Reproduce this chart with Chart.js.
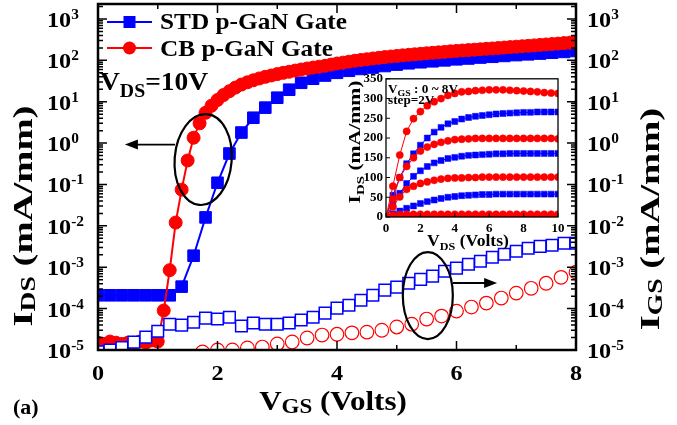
<!DOCTYPE html>
<html>
<head>
<meta charset="utf-8">
<script src="https://cdn.jsdelivr.net/npm/chart.js@4.4.1/dist/chart.umd.min.js"></script>
<style>
  html, body { margin: 0; padding: 0; background: #fff; }
  #wrap { position: relative; width: 677px; height: 425px; }
  #main { position: absolute; left: 0; top: 0; width: 677px; height: 425px; }
  #inset { position: absolute; left: 340px; top: 68px; width: 240px; height: 190px; }
</style>
</head>
<body>
<div id="wrap">
  <canvas id="main" width="677" height="425"></canvas>
  <canvas id="inset" width="240" height="190"></canvas>
</div>
<script>
// ---- main plot data (VGS sweep, VDS = 10 V) ----
var vgsStd = [0,0.2,0.4,0.6,0.8,1,1.2,1.4,1.6,1.8,2,2.2,2.4,2.6,2.8,3,3.2,3.4,3.6,3.8,4,4.2,4.4,4.6,4.8,5,5.2,5.4,5.6,5.8,6,6.2,6.4,6.6,6.8,7,7.2,7.4,7.6,7.8,8];
var idsStd = [2.1e-4,2.1e-4,2.1e-4,2.1e-4,2.1e-4,2.1e-4,2.1e-4,3.4e-4,1.9e-3,1.6e-2,0.11,0.56,1.8,4.1,7.2,12.5,19.5,28.7,36,43,50,56,62,67,73,79,85,90,95,100,106,111,117,122,128,134,140,146,153,160,168];
var igsStd = [9e-6,1.0e-5,1.15e-5,1.55e-5,2.05e-5,2.85e-5,4.2e-5,4.0e-5,4.7e-5,5.9e-5,5.6e-5,6.2e-5,3.8e-5,4.5e-5,4.2e-5,4.2e-5,4.5e-5,5.3e-5,6.2e-5,7.8e-5,1.03e-4,1.21e-4,1.6e-4,2.1e-4,2.8e-4,3.3e-4,4.1e-4,5.1e-4,6.1e-4,8.0e-4,9.5e-4,1.18e-3,1.4e-3,1.74e-3,2.06e-3,2.43e-3,2.87e-3,3.2e-3,3.4e-3,3.8e-3,3.8e-3];

var vgsCb = [0,0.1,0.2,0.3,0.4,0.5,0.6,0.7,0.8,0.9,1,1.1,1.2,1.3,1.4,1.5,1.6,1.7,1.8,1.9,2,2.1,2.2,2.3,2.4,2.5,2.6,2.7,2.8,2.9,3,3.1,3.2,3.3,3.4,3.5,3.6,3.7,3.8,3.9,4,4.1,4.2,4.3,4.4,4.5,4.6,4.7,4.8,4.9,5,5.1,5.2,5.3,5.4,5.5,5.6,5.7,5.8,5.9,6,6.1,6.2,6.3,6.4,6.5,6.6,6.7,6.8,6.9,7,7.1,7.2,7.3,7.4,7.5,7.6,7.7,7.8,7.9,8];
var idsCb = [1.5e-5,1.4e-5,1.6e-5,1.5e-5,1.4e-5,1.5e-5,1.5e-5,1.6e-5,1.5e-5,1.7e-5,1.6e-5,
  9e-5,8.5e-4,1.2e-2,7.5e-2,0.38,1.35,3.0,5.4,
  8,11,14.5,18,22,26,29.5,33,36.5,40,
  43,46.5,50,53,56.5,60,63.5,67,70.5,74,
  79,84,88,93,98,102,106,111,115,120,
  124,128,132,136,140,144,148,152,156,160,
  165,169,173,177,181,185,190,194,199,204,
  209,214,219,224,230,236,242,248,254,261,
  268,276];

var vgsCbGate = [0,0.25,0.5,0.75,1,1.25,1.5,1.75,2,2.25,2.5,2.75,3,3.25,3.5,3.75,4,4.25,4.5,4.75,5,5.25,5.5,5.75,6,6.25,6.5,6.75,7,7.25,7.5,7.75,8];
var igsCb = [null,null,null,null,null,null,null,9e-6,1.0e-5,1.0e-5,1.12e-5,1.18e-5,1.4e-5,1.56e-5,1.95e-5,2.3e-5,2.4e-5,2.6e-5,2.7e-5,3.0e-5,3.6e-5,4.2e-5,5.6e-5,6.6e-5,8.7e-5,1.09e-4,1.36e-4,1.8e-4,2.37e-4,3.1e-4,4.1e-4,5.7e-4,7.6e-4];

var xTickLabels = [0, 2, 4, 6, 8];
var decades = [-5, -4, -3, -2, -1, 0, 1, 2, 3];

// ---- inset data (output curves, VGS 0 ~ 8 V, step 2 V) ----
var vds = [0,0.4,0.8,1.2,1.6,2,2.4,2.8,3.2,3.6,4,4.4,4.8,5.2,5.6,6,6.4,6.8,7.2,7.6,8,8.4,8.8,9.2,9.6,10];
var cbVgs8 = [0,78,157,217,249,267,282,292,300,308,313,317,318,320,321,322,322,322,321,320,319,318,317,315,314,313];
var cbVgs6 = [0,45,100,128,150,167,177,184,189,193,196,197,198,199,199,199,199,199,199,199,199,199,199,199,199,198];
var cbVgs4 = [0,26,51,70,78,85,89,93,96,98,99,99,100,100,101,101,101,101,101,101,101,101,101,101,101,101];
var cbVgs2 = [0,5,6,7,7,7,7,7,7,7,7,7,7,7,7,7,7,7,7,7,7,7,7,7,7,7];
var cbVgs0 = [0,0,0,0,0,0,0,0,0,0,0,0,0,0,0,0,0,0,0,0,0,0,0,0,0,0];
var stdVgs8 = [0,55,100,135,160,182,200,215,227,236,242,248,252,255,257,259,261,262,263,264,265,265,266,266,266,266];
var stdVgs6 = [0,30,60,85,103,117,128,137,143,148,151,154,156,157,158,159,160,160,161,161,161,161,161,161,161,161];
var stdVgs4 = [0,8,15,22,28,34,39,43,47,50,52,54,55,56,57,57,58,58,58,58,58,58,58,58,58,58];
var stdVgs2 = [0,1,2,2,2,2,2,2,2,2,2,2,2,2,2,2,2,2,2,2,2,2,2,2,2,2];
var stdVgs0 = [0,0,0,0,0,0,0,0,0,0,0,0,0,0,0,0,0,0,0,0,0,0,0,0,0,0];

var BLUE = '#0000ff';
var RED = '#ff0000';
var FONT = 'Liberation Serif';
var SX = 1.1; // the original lettering is a bit wide

// annotation anchors in data units (ovals and arrows)
var ovals = [{x: 1.76, y: 0.40, rx: 28.5, ry: 45.5, rot: 0.08}, {x: 5.52, y: 2.07e-4, rx: 25, ry: 43.5, rot: 0}];
var arrows = [{from: 1.29, to: 0.45, y: 0.92}, {from: 5.94, to: 6.68, y: 4.16e-4}];

function pts(xs, ys) {
  return xs.map(function(x, i) { return {x: x, y: ys[i]}; });
}

// text with sub/superscripts, parts: {t, s (px), dy}; sx = stretch along the line
function drawRich(ctx, parts, x, y, align, vertical, sx) {
  sx = sx || SX;
  ctx.save();
  ctx.translate(x, y);
  if (vertical) ctx.rotate(-Math.PI / 2);
  var total = 0;
  parts.forEach(function(p) {
    ctx.font = 'bold ' + p.s + 'px "' + FONT + '"';
    p.w = ctx.measureText(p.t).width * sx;
    total += p.w;
  });
  var cx = align === 'center' ? -total / 2 : (align === 'right' ? -total : 0);
  parts.forEach(function(p) {
    ctx.save();
    ctx.translate(cx, p.dy || 0);
    ctx.scale(sx, 1);
    ctx.font = 'bold ' + p.s + 'px "' + FONT + '"';
    ctx.textAlign = 'left';
    ctx.textBaseline = 'alphabetic';
    ctx.fillStyle = '#000';
    ctx.fillText(p.t, 0, 0);
    ctx.restore();
    cx += p.w;
  });
  ctx.restore();
}

var mainDeco = {
  id: 'mainDeco',
  afterDraw: function(chart) {
    var ctx = chart.ctx, a = chart.chartArea;
    var xs = chart.scales.x, ys = chart.scales.y;
    ctx.save();
    ctx.strokeStyle = '#000';
    ctx.fillStyle = '#000';

    // inward ticks
    ctx.lineWidth = 1.5;
    ctx.beginPath();
    decades.forEach(function(d) {
      for (var m = 1; m <= 9; m++) {
        var v = m * Math.pow(10, d);
        if (v > ys.max) break;
        var py = ys.getPixelForValue(v);
        var len = m === 1 ? 9 : 5;
        ctx.moveTo(a.left, py); ctx.lineTo(a.left + len, py);
        ctx.moveTo(a.right, py); ctx.lineTo(a.right - len, py);
      }
    });
    for (var i = 1; i < 8; i++) {
      var px = xs.getPixelForValue(i);
      var l = i % 2 === 0 ? 9 : 5;
      ctx.moveTo(px, a.bottom); ctx.lineTo(px, a.bottom - l);
      ctx.moveTo(px, a.top); ctx.lineTo(px, a.top + l);
    }
    ctx.stroke();

    // frame
    ctx.lineWidth = 2.5;
    ctx.strokeRect(a.left, a.top, a.right - a.left, a.bottom - a.top);

    // tick labels
    decades.forEach(function(d) {
      var py = ys.getPixelForValue(Math.pow(10, d));
      drawRich(ctx, [{t: '10', s: 22}, {t: String(d), s: 14, dy: -8}], 47, py + 8, 'left');
      drawRich(ctx, [{t: '10', s: 22}, {t: String(d), s: 14, dy: -8}], a.right + 11, py + 8, 'left');
    });
    xTickLabels.forEach(function(v) {
      drawRich(ctx, [{t: String(v), s: 22}], xs.getPixelForValue(v), a.bottom + 30, 'center');
    });

    // axis titles
    drawRich(ctx, [{t: 'V', s: 27}, {t: 'GS', s: 20, dy: 3}, {t: ' (Volts)', s: 27}], 333, 410, 'center', false, 1.15);
    drawRich(ctx, [{t: 'I', s: 28}, {t: 'DS', s: 20, dy: 3}, {t: ' (mA/mm)', s: 28}], 32, 216, 'center', true, 1.38);
    drawRich(ctx, [{t: 'I', s: 28}, {t: 'GS', s: 20, dy: 3}, {t: ' (mA/mm)', s: 28}], 659, 219, 'center', true, 1.38);
    drawRich(ctx, [{t: '(a)', s: 20}], 13, 414, 'left');

    // legend
    var lx = a.left + 9, ly1 = a.top + 18, ly2 = a.top + 44;
    ctx.lineWidth = 2;
    ctx.strokeStyle = BLUE;
    ctx.beginPath(); ctx.moveTo(lx, ly1); ctx.lineTo(lx + 45, ly1); ctx.stroke();
    ctx.fillStyle = BLUE;
    ctx.fillRect(lx + 16.5, ly1 - 6, 12, 12);
    ctx.strokeStyle = RED;
    ctx.beginPath(); ctx.moveTo(lx, ly2); ctx.lineTo(lx + 45, ly2); ctx.stroke();
    ctx.fillStyle = RED;
    ctx.beginPath(); ctx.arc(lx + 22.5, ly2, 6.5, 0, Math.PI * 2); ctx.fill();
    drawRich(ctx, [{t: 'STD p-GaN Gate', s: 23}], a.left + 62, a.top + 25, 'left');
    drawRich(ctx, [{t: 'CB p-GaN Gate', s: 23}], a.left + 62, a.top + 52, 'left');
    drawRich(ctx, [{t: 'V', s: 25}, {t: 'DS', s: 18, dy: 7}, {t: '=10V', s: 25}], a.left + 2, a.top + 86, 'left');

    // ovals and arrows
    ctx.strokeStyle = '#000';
    ctx.fillStyle = '#000';
    ctx.lineWidth = 2.2;
    ovals.forEach(function(o) {
      ctx.beginPath();
      ctx.ellipse(xs.getPixelForValue(o.x), ys.getPixelForValue(o.y), o.rx, o.ry, o.rot, 0, Math.PI * 2);
      ctx.stroke();
    });
    arrows.forEach(function(ar) {
      var x0 = xs.getPixelForValue(ar.from), x1 = xs.getPixelForValue(ar.to), py = ys.getPixelForValue(ar.y);
      var dir = x1 > x0 ? 1 : -1;
      ctx.lineWidth = 1.8;
      ctx.beginPath(); ctx.moveTo(x0, py); ctx.lineTo(x1 - dir * 10, py); ctx.stroke();
      ctx.beginPath();
      ctx.moveTo(x1, py);
      ctx.lineTo(x1 - dir * 13, py - 5);
      ctx.lineTo(x1 - dir * 13, py + 5);
      ctx.closePath();
      ctx.fill();
    });
    ctx.restore();
  }
};

new Chart(document.getElementById('main'), {
  type: 'scatter',
  data: {
    datasets: [
      {label: 'STD IGS', data: pts(vgsStd, igsStd), yAxisID: 'y2', showLine: false,
        pointStyle: 'rect', pointRadius: 8.2, borderColor: BLUE, backgroundColor: '#fff', pointBorderWidth: 1.5, clip: 0},
      {label: 'CB p-GaN Gate', data: pts(vgsCb, idsCb), yAxisID: 'y', showLine: true,
        borderColor: RED, borderWidth: 2, backgroundColor: RED, pointStyle: 'circle', pointRadius: 6.5, pointBorderWidth: 1, clip: 0},
      {label: 'STD p-GaN Gate', data: pts(vgsStd, idsStd), yAxisID: 'y', showLine: true,
        borderColor: BLUE, borderWidth: 2, backgroundColor: BLUE, pointStyle: 'rect', pointRadius: 8.2, pointBorderWidth: 1, clip: 0},
      {label: 'CB IGS', data: pts(vgsCbGate, igsCb), yAxisID: 'y2', showLine: false,
        pointStyle: 'circle', pointRadius: 6.8, borderColor: RED, backgroundColor: 'rgba(0,0,0,0)', pointBorderWidth: 1.2, clip: 0}
    ]
  },
  options: {
    responsive: false,
    animation: false,
    devicePixelRatio: 1,
    events: [],
    layout: {autoPadding: false, padding: {top: 4, left: 0, right: 0, bottom: 0}},
    plugins: {legend: {display: false}, tooltip: {enabled: false}},
    scales: {
      x: {type: 'linear', min: 0, max: 8, ticks: {display: false}, grid: {display: false}, border: {display: false},
        afterFit: function(s) { s.height = 75; }},
      y: {type: 'logarithmic', position: 'left', min: 1e-5, max: 2300, ticks: {display: false}, grid: {display: false}, border: {display: false},
        afterFit: function(s) { s.width = 98; }},
      y2: {type: 'logarithmic', position: 'right', min: 1e-5, max: 2300, ticks: {display: false}, grid: {display: false}, border: {display: false},
        afterFit: function(s) { s.width = 101; }}
    }
  },
  plugins: [mainDeco]
});

// ---- inset ----
var insetDeco = {
  id: 'insetDeco',
  afterDraw: function(chart) {
    var ctx = chart.ctx, a = chart.chartArea;
    var xs = chart.scales.x, ys = chart.scales.y;
    ctx.save();
    ctx.strokeStyle = '#000';
    ctx.lineWidth = 1;
    ctx.beginPath();
    ys.ticks.forEach(function(t) {
      var py = ys.getPixelForValue(t.value);
      ctx.moveTo(a.left, py); ctx.lineTo(a.left + 4, py);
    });
    xs.ticks.forEach(function(t) {
      var px = xs.getPixelForValue(t.value);
      ctx.moveTo(px, a.bottom); ctx.lineTo(px, a.bottom - 4);
    });
    ctx.stroke();
    ctx.lineWidth = 1.3;
    ctx.strokeRect(a.left, a.top, a.right - a.left, a.bottom - a.top);

    drawRich(ctx, [{t: 'V', s: 12}, {t: 'GS', s: 9, dy: 3}, {t: ' : 0 ~ 8V', s: 12}], a.left + 2, a.top + 14, 'left');
    drawRich(ctx, [{t: 'step=2V', s: 12}], a.left + 2, a.top + 25, 'left');
    drawRich(ctx, [{t: 'V', s: 16}, {t: 'DS', s: 11, dy: 4}, {t: ' (Volts)', s: 16}], 128, 178, 'center');
    drawRich(ctx, [{t: 'I', s: 16}, {t: 'DS', s: 11, dy: 4}, {t: ' (mA/mm)', s: 16}], 20, 74, 'center', true, 1.35);
    ctx.restore();
  }
};

function insetSet(ys, color, style, r) {
  return {data: pts(vds, ys), showLine: true, borderColor: color, borderWidth: 1, backgroundColor: color,
    pointStyle: style, pointRadius: r, pointBorderWidth: 0.5};
}

new Chart(document.getElementById('inset'), {
  type: 'scatter',
  data: {
    datasets: [
      insetSet(cbVgs8, RED, 'circle', 3.6),
      insetSet(cbVgs6, RED, 'circle', 3.6),
      insetSet(cbVgs4, RED, 'circle', 3.6),
      insetSet(cbVgs2, RED, 'circle', 3.6),
      insetSet(cbVgs0, RED, 'circle', 3.6),
      insetSet(stdVgs8, BLUE, 'rect', 4.2),
      insetSet(stdVgs6, BLUE, 'rect', 4.2),
      insetSet(stdVgs4, BLUE, 'rect', 4.2),
      insetSet(stdVgs2, BLUE, 'rect', 4.2),
      insetSet(stdVgs0, BLUE, 'rect', 4.2)
    ]
  },
  options: {
    responsive: false,
    animation: false,
    devicePixelRatio: 1,
    events: [],
    layout: {autoPadding: false, padding: {top: 9, right: 22, left: 0, bottom: 0}},
    plugins: {legend: {display: false}, tooltip: {enabled: false}},
    scales: {
      x: {type: 'linear', min: 0, max: 10,
        ticks: {stepSize: 2, padding: 4, color: '#000', font: {family: FONT, weight: 'bold', size: 13}},
        grid: {display: false, drawTicks: false}, border: {display: false},
        afterFit: function(s) { s.height = 41; }},
      y: {type: 'linear', min: 0, max: 350,
        ticks: {stepSize: 50, padding: 3, color: '#000', font: {family: FONT, weight: 'bold', size: 13}},
        grid: {display: false, drawTicks: false}, border: {display: false},
        afterFit: function(s) { s.width = 46; }}
    }
  },
  plugins: [insetDeco]
});
</script>
</body>
</html>
